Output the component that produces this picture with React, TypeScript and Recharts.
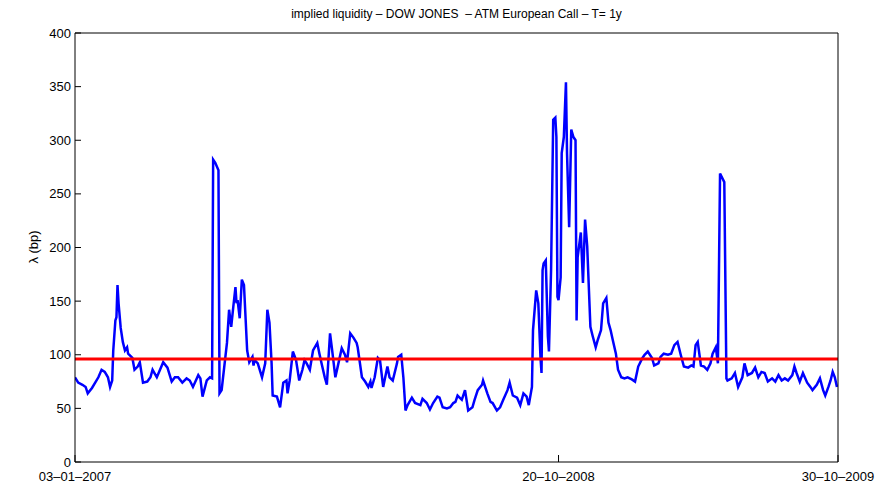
import React from 'react';
import { LineChart, Line, XAxis, YAxis } from 'recharts';

// trading-day index since 03-01-2007, and implied liquidity in bp
const days = [
  0, 3, 7, 10, 12, 16, 19, 22, 25, 28, 31, 33, 35, 36, 38, 39, 40, 41, 43, 45, 47, 49, 50, 54, 56, 59, 61, 64, 68, 71,
  73, 77, 80, 83, 87, 91, 94, 97, 101, 105, 108, 111, 116, 118, 120, 124, 127, 129, 130, 132, 135, 136, 138, 139, 143,
  145, 147, 149, 151, 152, 153, 155, 157, 159, 162, 164, 167, 168, 169, 172, 176, 179, 181, 183, 185, 186, 190, 193,
  196, 199, 200, 202, 205, 208, 211, 214, 216, 218, 221, 224, 228, 230, 232, 235, 237, 240, 242, 245, 247, 251, 254,
  256, 259, 262, 265, 266, 270, 273, 276, 278, 279, 282, 285, 287, 290, 294, 296, 299, 303, 304, 307, 309, 311, 313,
  317, 320, 325, 327, 331, 334, 337, 341, 343, 346, 350, 353, 356, 358, 360, 364, 367, 370, 374, 376, 379, 383, 384,
  388, 391, 393, 397, 400, 403, 407, 409, 412, 416, 419, 422, 425, 427, 430, 431, 434, 436, 438, 439, 440, 441, 443,
  445, 446, 448, 450, 452, 453, 454, 455, 457, 458, 460, 462, 463, 465, 467, 469, 471, 472, 473, 476, 478, 480, 482,
  485, 487, 490, 492, 495, 497, 500, 502, 504, 506, 509, 511, 514, 517, 520, 524, 527, 530, 534, 536, 539, 543, 545,
  549, 551, 554, 558, 561, 564, 567, 570, 573, 577, 580, 582, 584, 586, 589, 592, 595, 598, 600, 603, 605, 607, 609,
  611, 613, 614, 618, 621, 624, 628, 630, 633, 637, 640, 643, 646, 649, 652, 656, 659, 662, 665, 668, 671, 675, 677,
  679, 682, 685, 689, 692, 694, 698, 701, 704, 706, 709, 711, 713, 715, 717,
];

const lambdaBp = [
  79, 74, 72, 70, 64, 69, 74, 79, 86, 84, 79, 70, 76, 104, 132, 135, 165, 148, 125, 112, 104, 107, 101, 97, 86, 89, 93,
  74, 75, 79, 86, 79, 86, 93, 88, 75, 79, 79, 74, 78, 76, 70, 81, 78, 61, 76, 79, 78, 282, 279, 272, 64, 67, 76, 111,
  142, 126, 145, 163, 148, 151, 134, 170, 165, 104, 93, 98, 90, 95, 92, 79, 92, 142, 130, 92, 62, 61, 51, 74, 76, 64,
  76, 103, 95, 76, 86, 95, 92, 86, 104, 111, 101, 92, 79, 72, 120, 104, 79, 88, 106, 100, 93, 120, 116, 111, 107, 79,
  75, 70, 75, 69, 79, 97, 95, 70, 89, 79, 76, 92, 98, 100, 79, 48, 53, 60, 55, 53, 59, 55, 49, 55, 61, 60, 51, 50, 51,
  55, 56, 62, 58, 67, 48, 51, 58, 67, 72, 76, 64, 56, 55, 48, 51, 58, 67, 74, 62, 60, 53, 64, 61, 53, 70, 123, 160,
  148, 98, 83, 179, 185, 188, 117, 103, 179, 319, 321, 303, 154, 151, 172, 288, 303, 354, 288, 219, 310, 303, 300, 132,
  191, 214, 167, 226, 201, 126, 118, 107, 114, 123, 148, 153, 130, 123, 114, 101, 86, 79, 78, 79, 77, 75, 89, 97, 100,
  103, 97, 90, 92, 98, 101, 100, 101, 109, 112, 100, 89, 88, 90, 89, 109, 112, 90, 89, 86, 92, 101, 107, 92, 269, 265,
  261, 78, 76, 78, 83, 70, 79, 92, 81, 83, 88, 79, 84, 83, 75, 78, 75, 81, 76, 78, 76, 81, 89, 83, 75, 83, 74, 70, 67,
  72, 78, 67, 62, 70, 76, 84, 79, 70,
];

const meanLevel = 96;
const lastDay = 718;

const xTicks = [0, 455, 718];
const xTickLabels = ['03–01–2007', '20–10–2008', '30–10–2009'];
const yTicks = [0, 50, 100, 150, 200, 250, 300, 350, 400];

const data = days.map((d, i) => ({ day: d, lambda: lambdaBp[i] }));
const meanData = [
  { day: 0, mean: meanLevel },
  { day: lastDay, mean: meanLevel },
];

const font = '"Liberation Sans", Arial, Helvetica, sans-serif';

export default function App() {
  return (
    <div style={{ position: 'absolute', left: 0, top: 0, width: 877, height: 489, background: '#fff', fontFamily: font }}>
      <div
        style={{
          position: 'absolute',
          left: 75,
          width: 763,
          top: 7,
          textAlign: 'center',
          fontSize: 12,
          color: '#000',
        }}
      >
        implied liquidity – DOW JONES&nbsp; – ATM European Call – T= 1y
      </div>
      <div
        style={{
          position: 'absolute',
          left: 33,
          top: 247,
          transform: 'translate(-50%, -50%) rotate(-90deg)',
          fontSize: 13,
          whiteSpace: 'nowrap',
          color: '#000',
        }}
      >
        λ (bp)
      </div>
      <LineChart
        width={877}
        height={489}
        data={data}
        margin={{ top: 32, right: 38, bottom: 5, left: 25 }}
        style={{ fontFamily: font }}
      >
        <XAxis
          dataKey="day"
          type="number"
          domain={[0, lastDay]}
          ticks={xTicks}
          tickFormatter={(v: number) => xTickLabels[xTicks.indexOf(v)] ?? ''}
          height={22}
          tickSize={-7}
          tickMargin={17}
          interval={0}
          stroke="#000"
          tick={{ fill: '#000', fontSize: 13 }}
          allowDataOverflow
        />
        <XAxis
          xAxisId="top"
          orientation="top"
          type="number"
          dataKey="day"
          domain={[0, lastDay]}
          ticks={xTicks}
          height={1}
          tickSize={-7}
          tick={false}
          stroke="#000"
          allowDataOverflow
        />
        <YAxis
          type="number"
          domain={[0, 400]}
          ticks={yTicks}
          width={50}
          tickSize={-6}
          tickMargin={10}
          interval={0}
          stroke="#000"
          tick={{ fill: '#000', fontSize: 13 }}
          allowDataOverflow
        />
        <YAxis
          yAxisId="right"
          orientation="right"
          type="number"
          domain={[0, 400]}
          ticks={yTicks}
          width={1}
          tickSize={-6}
          tick={false}
          stroke="#000"
          allowDataOverflow
        />
        <Line
          type="linear"
          dataKey="lambda"
          stroke="#0000ff"
          strokeWidth={2.5}
          dot={false}
          isAnimationActive={false}
        />
        <Line
          xAxisId="top"
          yAxisId="right"
          data={meanData}
          type="linear"
          dataKey="mean"
          stroke="#ff0000"
          strokeWidth={3}
          dot={false}
          isAnimationActive={false}
        />
      </LineChart>
    </div>
  );
}
